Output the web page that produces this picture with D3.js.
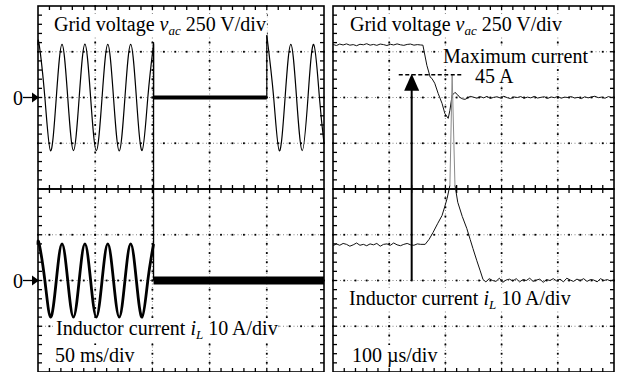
<!DOCTYPE html>
<html lang="en">
<head>
<meta charset="UTF-8">
<title>Grid voltage and inductor current</title>
<script src="https://d3js.org/d3.v7.min.js"></script>
<style>
  body { margin: 0; background: #fff; }
  svg text { font-family: "Liberation Serif", "Times New Roman", serif; font-size: 20px; fill: #000; white-space: pre; }
  .grid { stroke: #666; stroke-width: 0.8; stroke-dasharray: 1 2.5; }
</style>
</head>
<body>
<div id="scope"></div>
<script>
// ---- values read off the two scope captures ----
// left capture, 50 ms/div : time in ms, voltage in V, current in A
var vacLeftOn1 = [[0,285],[1,290],[6,0],[11,-292],[16,0],[21,290],[26,0],[31,-290],[36,0],[41,292],[46,0],[51,-290],
  [56,0],[61,290],[66,0],[71,-292],[76,0],[81,290],[86,0],[91,-290],[96,0],[101,290]];
var vacLeftDrop = [[101,290],[101,0]];
var vacLeftOff = [[101,-11,11],[200,-11,11]];           // t, low, high
var vacLeftRise = [[200,0],[200,340]];
var vacLeftOn2 = [[200,340],[206,0],[211,-292],[216,0],[221,290],[226,0],[231,-290],[236,0],[241,290],[246,0],[250,-250]];

var iLeftOn = [[0,7.8],[1,8],[6,0],[11,-8],[16,0],[21,8],[26,0],[31,-8],[36,0],[41,8],[46,0],[51,-8],
  [56,0],[61,8],[66,0],[71,-8],[76,0],[81,8],[86,0],[91,-8],[96,0],[101,8]];
var iLeftJump = [[101,8],[101,52],[101,0]];
var iLeftOff = [[101,-0.9,0.9],[250,-0.9,0.9]];

// right capture, 100 us/div : time in us
var vacRight = [[0,290],[6,284],[12,292],[18,287],[24,293],[30,286],[36,289],[42,283],[48,291],[54,288],[60,294],
  [66,286],[72,290],[78,285],[84,292],[90,289],[96,284],[102,291],[108,287],[114,293],[120,288],[126,285],
  [132,290],[138,292],[144,286],[150,289],[156,287],[160,286],[167,176],[173,111],[176,104],[181,78],[187,23],
  [194,-32],[199,-87],[205,-114],[208,-70],[212,12],[217,28],[222,14],[226,0],[231,-8],[235,-10],[240,-2],
  [244,6],[250,2],[256,-4],[262,5],[268,-2],[274,6],[280,-5],[286,1],[292,4],[298,-3],[304,7],[310,-1],
  [316,-6],[322,3],[328,0],[334,5],[340,-4],[346,2],[352,-2],[358,6],[364,-3],[370,1],[376,4],[382,-5],
  [388,3],[394,-1],[400,6],[406,-4],[412,2],[418,0],[424,5],[430,-3],[436,1],[442,-6],[448,4],[454,-2],
  [460,3],[466,7],[472,-1],[478,2],[484,-4],[490,5],[496,0],[500,2]];

var iRightPre = [[0,7.6],[6,8.0],[12,7.7],[18,8.1],[24,7.9],[30,7.5],[36,7.8],[42,8.2],[48,7.7],[54,7.9],
  [60,7.6],[66,8.0],[72,7.8],[78,8.1],[84,7.5],[90,7.9],[96,8.0],[102,7.7],[108,8.2],[114,7.8],[120,7.6],
  [126,7.9],[132,8.1],[138,7.8],[144,7.7],[150,8.0],[156,7.9],[164,7.9],[171,9.0],[178,10.5],[186,12.4],
  [194,14.2],[199,16.2],[203,17.9],[208,20.8]];
var iRightSpike = [[208,20.8],[212,45],[217,20.8]];
var iRightPost = [[217,20.8],[222,17.1],[230,14.0],[238,11.4],[244,9.0],[249,7.0],[256,4.3],[262,2.1],
  [267,0.2],[272,-0.3],[278,0.4],[284,0.0],[290,-0.2],[296,0.5],[302,-0.4],[308,0.1],[314,0.3],[320,-0.1],
  [326,0.4],[332,-0.3],[338,0.2],[344,0.0],[350,0.5],[356,-0.2],[362,0.1],[368,0.3],[374,-0.4],[380,0.2],
  [386,0.0],[392,0.4],[398,-0.1],[404,0.3],[410,-0.3],[416,0.5],[422,0.1],[428,-0.2],[434,0.3],[440,0.0],
  [446,0.4],[452,-0.2],[458,0.2],[464,0.1],[470,-0.3],[476,0.4],[482,0.0],[488,0.2],[494,-0.1],[500,0.2]];

// maximum-current marker (right capture)
var peakCurrent = 45;
var arrowTime = 140;
var peakLineSpan = [117, 231];

// ---- layout ----
var W = 622, H = 372;
var svg = d3.select("#scope").append("svg").attr("width", W).attr("height", H);
var gGrid = svg.append("g"), gBg = svg.append("g"), gTrace = svg.append("g"), gText = svg.append("g");

var panels = [
  {x0: 38, x1: 324, tmax: 250},
  {x0: 333, x1: 614, tmax: 500}
];
var yDiv = d3.scaleLinear().domain([-4, 4]).range([372, 6]);
var yV = d3.scaleLinear().domain([-500, 500]).range([yDiv(0), yDiv(4)]);   // 250 V/div
var yI = d3.scaleLinear().domain([-20, 20]).range([yDiv(-4), yDiv(0)]);    // 10 A/div

panels.forEach(function(p) {
  p.x = d3.scaleLinear().domain([0, p.tmax]).range([p.x0, p.x1]);
  p.xd = d3.scaleLinear().domain([0, 5]).range([p.x0, p.x1]);
  drawBox(p, 0, 4);
  drawBox(p, -4, 0);
});

function drawBox(p, d0, d1) {
  var g = gGrid.append("g");
  var top = yDiv(d1), bot = yDiv(d0);
  var xMinor = d3.range(0, 26).map(function(k) { return k / 5; });
  var yMinor = d3.range(0, 21).map(function(k) { return d0 + k / 5; });

  [1, 2, 3, 4].forEach(function(i) {
    g.append("line").attr("class", "grid")
      .attr("x1", p.xd(i)).attr("x2", p.xd(i)).attr("y1", top).attr("y2", bot);
    yMinor.forEach(function(m) {
      g.append("rect").attr("x", p.xd(i) - 0.9).attr("y", yDiv(m) - 0.9)
        .attr("width", 1.8).attr("height", 1.8).attr("fill", "#000");
    });
  });
  d3.range(d0 + 1, d1).forEach(function(j) {
    g.append("line").attr("class", "grid")
      .attr("x1", p.x0).attr("x2", p.x1).attr("y1", yDiv(j)).attr("y2", yDiv(j));
    xMinor.forEach(function(m) {
      g.append("rect").attr("x", p.xd(m) - 0.9).attr("y", yDiv(j) - 0.9)
        .attr("width", 1.8).attr("height", 1.8).attr("fill", "#000");
    });
  });

  // inward ticks on the frame
  xMinor.slice(1, -1).forEach(function(m) {
    g.append("line").attr("x1", p.xd(m)).attr("x2", p.xd(m)).attr("y1", top).attr("y2", top + 4)
      .attr("stroke", "#000").attr("stroke-width", 1.3);
    g.append("line").attr("x1", p.xd(m)).attr("x2", p.xd(m)).attr("y1", bot).attr("y2", bot - 4)
      .attr("stroke", "#000").attr("stroke-width", 1.3);
  });
  yMinor.slice(1, -1).forEach(function(m) {
    g.append("line").attr("x1", p.x0).attr("x2", p.x0 + 4).attr("y1", yDiv(m)).attr("y2", yDiv(m))
      .attr("stroke", "#000").attr("stroke-width", 1.3);
    g.append("line").attr("x1", p.x1).attr("x2", p.x1 - 4).attr("y1", yDiv(m)).attr("y2", yDiv(m))
      .attr("stroke", "#000").attr("stroke-width", 1.3);
  });

  g.append("rect").attr("x", p.x0).attr("y", top)
    .attr("width", p.x1 - p.x0).attr("height", bot - top)
    .attr("fill", "none").attr("stroke", "#000").attr("stroke-width", 1.6);
}

// ---- traces ----
function trace(p, ys, data, curve, color, width) {
  var line = d3.line()
    .x(function(d) { return p.x(d[0]); })
    .y(function(d) { return ys(d[1]); })
    .curve(curve);
  gTrace.append("path").attr("d", line(data))
    .attr("fill", "none").attr("stroke", color).attr("stroke-width", width)
    .attr("stroke-linejoin", "round");
}
function band(p, ys, data) {
  var area = d3.area()
    .x(function(d) { return p.x(d[0]); })
    .y0(function(d) { return ys(d[1]); })
    .y1(function(d) { return ys(d[2]); });
  gTrace.append("path").attr("d", area(data)).attr("fill", "#000");
}

var L = panels[0], R = panels[1];
trace(L, yV, vacLeftOn1, d3.curveNatural, "#000", 1.2);
trace(L, yV, vacLeftDrop, d3.curveLinear, "#000", 1.2);
band(L, yV, vacLeftOff);
trace(L, yV, vacLeftRise, d3.curveLinear, "#000", 1.2);
trace(L, yV, vacLeftOn2, d3.curveNatural, "#000", 1.2);

trace(L, yI, iLeftOn, d3.curveNatural, "#000", 2.8);
trace(L, yI, iLeftJump, d3.curveLinear, "#000", 1.3);
band(L, yI, iLeftOff);

trace(R, yV, vacRight, d3.curveLinear, "#111", 1);
trace(R, yI, iRightPre, d3.curveLinear, "#111", 1);
trace(R, yI, iRightSpike, d3.curveLinear, "#8a8a8a", 1);
trace(R, yI, iRightPost, d3.curveLinear, "#111", 1);

// maximum current marker
gTrace.append("line")
  .attr("x1", R.x(peakLineSpan[0])).attr("x2", R.x(peakLineSpan[1]))
  .attr("y1", yI(peakCurrent)).attr("y2", yI(peakCurrent))
  .attr("stroke", "#000").attr("stroke-width", 1.5).attr("stroke-dasharray", "4 2.5");
var ax = R.x(arrowTime), ayTop = yI(peakCurrent);
gTrace.append("line").attr("x1", ax).attr("x2", ax).attr("y1", ayTop + 14).attr("y2", yI(0))
  .attr("stroke", "#000").attr("stroke-width", 2);
gTrace.append("path")
  .attr("d", "M" + ax + "," + (ayTop - 1) + "L" + (ax + 7.5) + "," + (ayTop + 16) + "L" + (ax - 7.5) + "," + (ayTop + 16) + "Z")
  .attr("fill", "#000");

// zero markers at the left of the first capture
[yV(0), yI(0)].forEach(function(y0) {
  gText.append("text").attr("x", 13).attr("y", y0 + 7).text("0");
  gText.append("line").attr("x1", 23).attr("x2", 33).attr("y1", y0).attr("y2", y0)
    .attr("stroke", "#000").attr("stroke-width", 1.3);
  gText.append("path").attr("d", "M32," + (y0 - 5) + "L39," + y0 + "L32," + (y0 + 5) + "Z").attr("fill", "#000");
});

// ---- labels (white box behind, like the original) ----
function label(x, y, parts) {
  var t = gText.append("text").attr("x", x).attr("y", y);
  parts.forEach(function(pt) {
    var ts = t.append("tspan").text(pt.s);
    if (pt.it) ts.style("font-style", "italic");
    if (pt.sub) ts.style("font-size", "13px").attr("dy", 4);
    if (pt.back) ts.attr("dy", -4);
  });
  var b = t.node().getBBox();
  gBg.append("rect").attr("x", b.x - 1).attr("y", b.y + 1)
    .attr("width", b.width + 2).attr("height", b.height - 2).attr("fill", "#fff");
}

var vacLabel = [{s: "Grid voltage "}, {s: "v", it: true}, {s: "ac", it: true, sub: true}, {s: " 250 V/div", back: true}];
var iLabel = [{s: "Inductor current "}, {s: "i", it: true}, {s: "L", it: true, sub: true}, {s: " 10 A/div", back: true}];

label(54, 31, vacLabel);
label(56, 335, iLabel);
label(55, 362, [{s: "50 ms/div"}]);

label(350, 31, vacLabel);
label(443, 63, [{s: "Maximum current"}]);
label(475, 83, [{s: "45 A"}]);
label(349, 305, iLabel);
label(352, 362, [{s: "100 \u00b5s/div"}]);
</script>
</body>
</html>
